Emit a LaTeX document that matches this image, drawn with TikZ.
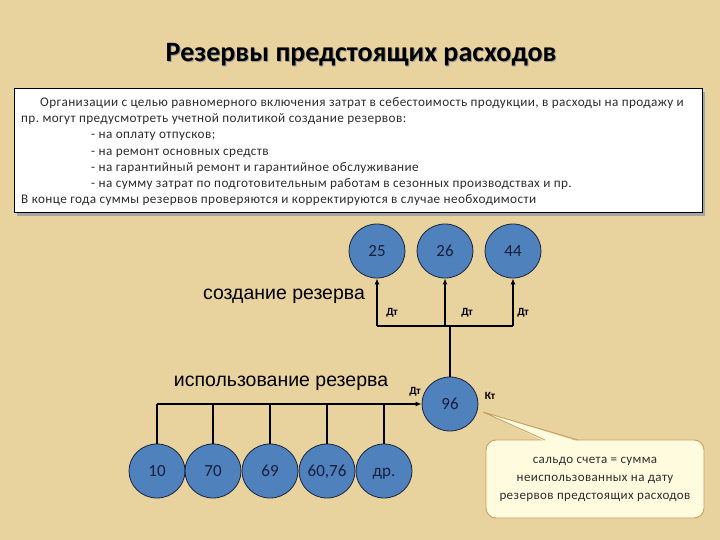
\documentclass[tikz,border=0pt]{standalone}
\usepackage{fontspec}
\setmainfont{Carlito}[Numbers=Lining]
\newfontfamily\arialf{Liberation Sans}
\newfontfamily\spacedf{Carlito}[Numbers=Lining,LetterSpace=3]
\usetikzlibrary{arrows.meta,shapes.geometric}
\definecolor{bg}{RGB}{232,210,157}
\definecolor{circ}{RGB}{79,129,189}
\definecolor{circd}{RGB}{25,35,60}
\definecolor{numc}{RGB}{25,30,60}
\definecolor{notefill}{RGB}{255,251,222}
\definecolor{noteedge}{RGB}{200,160,95}
\definecolor{txt}{RGB}{45,45,45}
\frenchspacing
\begin{document}
\begin{tikzpicture}[x=1pt,y=-1pt,
  acct/.style={ellipse,draw=circd,line width=0.8pt,fill=circ,minimum width=56pt,minimum height=54pt,inner sep=0pt,text=numc,text height=11.5pt,text depth=0pt,font=\fontsize{17}{17}\selectfont},
  line/.style={line width=1.8pt,black},
  arr/.style={line,-{Latex[length=6pt,width=5pt]}},
  dk/.style={font=\bfseries\fontsize{11}{11}\selectfont,inner sep=0pt},
  para/.style={anchor=base west,inner sep=0pt,text=txt,font=\spacedf\fontsize{13.2}{13.2}\selectfont},
  big/.style={font=\arialf\fontsize{19.5}{19.5}\selectfont,inner sep=0pt},
  notetxt/.style={font=\spacedf\fontsize{13}{18}\selectfont,align=center,text=txt}
]
\useasboundingbox (0,0) rectangle (720,540);
\fill[bg] (0,0) rectangle (720,540);
% title
\node[font=\bfseries\fontsize{28}{28}\selectfont,text=black!40] at (362,56) {Резервы предстоящих расходов};
\node (title) [font=\bfseries\fontsize{28}{28}\selectfont] at (361,55) {Резервы предстоящих расходов};
% text box
\fill[black!35] (17,92) rectangle (705,216);
\node (box) [draw=black,line width=1pt,fill=white,minimum width=688pt,minimum height=124pt,inner sep=0pt] at (358.5,151) {};
\node[para] at (40,107) {Организации с целью равномерного включения затрат в себестоимость продукции, в расходы на продажу и};
\node[para] at (21,123) {пр. могут предусмотреть учетной политикой создание резервов:};
\node[para] at (91,139) {- на оплату отпусков;};
\node[para] at (91,156) {- на ремонт основных средств};
\node[para] at (91,172) {- на гарантийный ремонт и гарантийное обслуживание};
\node[para] at (91,188) {- на сумму затрат по подготовительным работам в сезонных производствах и пр.};
\node[para] at (21,204) {В конце года суммы резервов проверяются и корректируются в случае необходимости};
% top accounts
\node (c25) [acct] at (377,251) {25};
\node (c26) [acct] at (445,251) {26};
\node (c44) [acct] at (513,251) {44};
\node (c96) [acct] at (450,404) {96};
\coordinate (jt) at (450,326);
\coordinate (h25) at (c25 |- jt);
\coordinate (h26) at (c26 |- jt);
\coordinate (h44) at (c44 |- jt);
\draw[line] (h25) -- (h44);
\draw[arr] (h25) -- (c25.south);
\draw[arr] (h26) -- (c26.south);
\draw[arr] (h44) -- (c44.south);
\draw[line] (c96.north) -- (jt);
\node[dk] at (392,313) {Дт};
\node[dk] at (467,313) {Дт};
\node[dk] at (523,313) {Дт};
\node (cre) [big] at (284,296) {создание резерва};
\node (use) [big] at (281,383) {использование резерва};
\node[dk] at (415,392) {Дт};
\node[dk] at (490,396) {Кт};
% bottom accounts
\node (b10) [acct] at (157,471) {10};
\node (b70) [acct] at (213,471) {70};
\node (b69) [acct] at (270,471) {69};
\node (b60) [acct] at (327,471) {60,76};
\node (bdr) [acct] at (384,471) {др.};
\coordinate (jb) at (b10 |- c96.west);
\draw[arr] (jb) -- (c96.west);
\foreach \n in {b10,b70,b69,b60,bdr}{
  \draw[line] (\n.north) -- (\n.north |- c96.west);
}
% callout
\coordinate (tip) at (483,412);
\node (note) [draw=noteedge,line width=0.9pt,fill=notefill,rounded corners=10pt,minimum width=218pt,minimum height=78pt,notetxt] at (595,479) {сальдо счета = сумма\\неиспользованных на дату\\резервов предстоящих расходов};
\fill[notefill] (545,441.5) -- (tip) -- (578,441.5) -- cycle;
\draw[noteedge,line width=0.9pt,line join=miter] (545,440) -- (tip) -- (578,440);
\end{tikzpicture}
\end{document}
